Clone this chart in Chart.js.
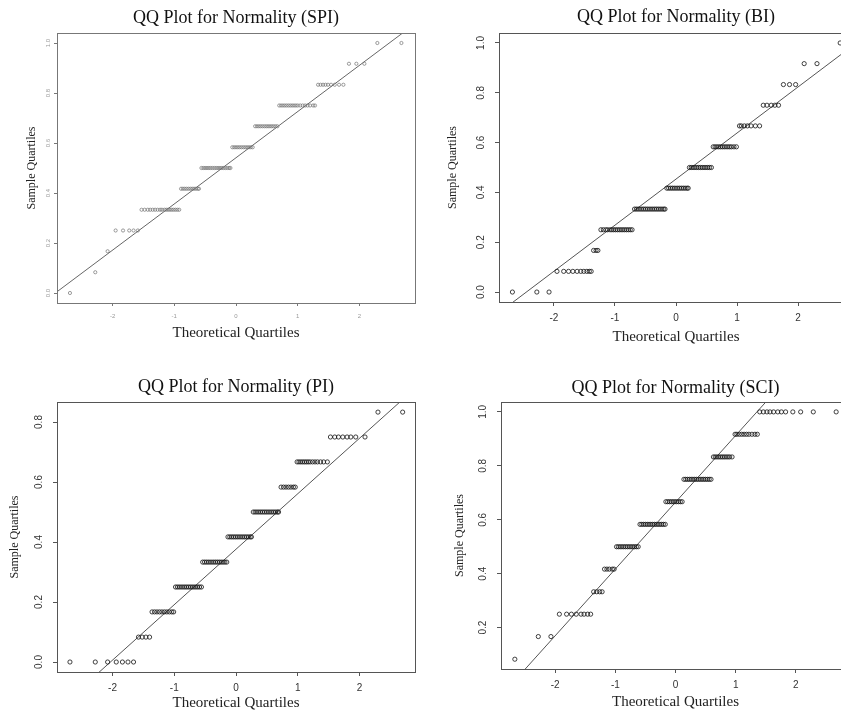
<!DOCTYPE html>
<html>
<head>
<meta charset="utf-8">
<title>QQ Plots for Normality</title>
<script src="https://cdn.jsdelivr.net/npm/chart.js@4.4.0/dist/chart.umd.min.js"></script>
<style>
  body { margin: 0; background: #fff; width: 841px; height: 711px; overflow: hidden; position: relative; }
  canvas { position: absolute; }
</style>
</head>
<body>
<canvas id="spiChart" width="420" height="345" style="left:0px;top:0px;width:420px;height:345px"></canvas>
<canvas id="biChart" width="440" height="350" style="left:420px;top:0px;width:440px;height:350px"></canvas>
<canvas id="piChart" width="420" height="351" style="left:0px;top:360px;width:420px;height:351px"></canvas>
<canvas id="sciChart" width="440" height="351" style="left:420px;top:360px;width:440px;height:351px"></canvas>
<script>
// tick labels
const xTicks = [-2, -1, 0, 1, 2];
const fullYTicks = [0, 0.2, 0.4, 0.6, 0.8, 1.0];
const piYTicks = [0, 0.2, 0.4, 0.6, 0.8];
const sciYTicks = [0.2, 0.4, 0.6, 0.8, 1.0];

// sample quartile levels, and the theoretical quartiles of the points sitting on each level
const spiLevels = [0, 0.083, 0.167, 0.25, 0.333, 0.417, 0.5, 0.583, 0.667, 0.75, 0.833, 0.917, 1.0];
const spiX = [
    [-2.69],
    [-2.28],
    [-2.08],
    [-1.95, -1.83, -1.73, -1.66, -1.59],
    [-1.53, -1.48, -1.43, -1.39, -1.35, -1.31, -1.27, -1.23, -1.20, -1.16, -1.13, -1.10, -1.07, -1.04, -1.01, -0.98, -0.95, -0.92],
    [-0.89, -0.86, -0.83, -0.80, -0.77, -0.74, -0.71, -0.68, -0.65, -0.62, -0.60],
    [-0.56, -0.53, -0.50, -0.47, -0.44, -0.41, -0.38, -0.35, -0.32, -0.29, -0.26, -0.23, -0.20, -0.17, -0.14, -0.11, -0.09],
    [-0.06, -0.03, 0.00, 0.03, 0.06, 0.09, 0.12, 0.15, 0.18, 0.21, 0.24, 0.27],
    [0.31, 0.34, 0.37, 0.40, 0.43, 0.46, 0.49, 0.52, 0.55, 0.58, 0.61, 0.64, 0.67],
    [0.70, 0.73, 0.76, 0.79, 0.82, 0.85, 0.88, 0.91, 0.94, 0.97, 1.00, 1.04, 1.08, 1.12, 1.16, 1.20, 1.25, 1.28],
    [1.33, 1.37, 1.41, 1.45, 1.49, 1.54, 1.60, 1.67, 1.74],
    [1.83, 1.95, 2.08],
    [2.29, 2.68]
];
const lineX = [-2.9, 2.9];
const spiLineY = [0.005, 1.077];

const biLevels = [0, 0.083, 0.167, 0.25, 0.333, 0.417, 0.5, 0.583, 0.667, 0.75, 0.833, 0.917, 1.0];
const biX = [
    [-2.68, -2.28, -2.08],
    [-1.95, -1.84, -1.76, -1.69, -1.62, -1.56, -1.51, -1.46, -1.42, -1.39],
    [-1.35, -1.31, -1.28],
    [-1.23, -1.19, -1.15, -1.12, -1.08, -1.05, -1.02, -0.99, -0.96, -0.93, -0.90, -0.87, -0.84, -0.81, -0.78, -0.75, -0.72],
    [-0.68, -0.65, -0.62, -0.59, -0.56, -0.53, -0.50, -0.47, -0.44, -0.41, -0.38, -0.35, -0.32, -0.29, -0.26, -0.23, -0.20, -0.18],
    [-0.15, -0.12, -0.09, -0.06, -0.03, 0.00, 0.03, 0.06, 0.09, 0.12, 0.15, 0.18, 0.20],
    [0.22, 0.25, 0.28, 0.31, 0.34, 0.37, 0.40, 0.43, 0.46, 0.49, 0.52, 0.55, 0.58],
    [0.61, 0.64, 0.67, 0.70, 0.73, 0.76, 0.79, 0.82, 0.85, 0.88, 0.91, 0.95, 0.99],
    [1.04, 1.07, 1.12, 1.17, 1.23, 1.30, 1.37],
    [1.43, 1.49, 1.56, 1.62, 1.68],
    [1.76, 1.86, 1.96],
    [2.10, 2.31],
    [2.69]
];
const biLineY = [-0.083, 0.99];

const piLevels = [0, 0.083, 0.167, 0.25, 0.333, 0.417, 0.5, 0.583, 0.667, 0.75, 0.833];
const piX = [
    [-2.69, -2.28, -2.08, -1.94, -1.84, -1.75, -1.66],
    [-1.58, -1.52, -1.46, -1.40],
    [-1.36, -1.32, -1.28, -1.24, -1.20, -1.16, -1.12, -1.08, -1.04, -1.01],
    [-0.98, -0.95, -0.92, -0.89, -0.86, -0.83, -0.80, -0.77, -0.74, -0.71, -0.68, -0.65, -0.62, -0.59, -0.56],
    [-0.54, -0.51, -0.48, -0.45, -0.42, -0.39, -0.36, -0.33, -0.30, -0.27, -0.24, -0.21, -0.18, -0.15],
    [-0.13, -0.10, -0.07, -0.04, -0.01, 0.02, 0.05, 0.08, 0.11, 0.14, 0.17, 0.20, 0.23, 0.25],
    [0.28, 0.31, 0.34, 0.37, 0.40, 0.43, 0.46, 0.49, 0.52, 0.55, 0.58, 0.61, 0.64, 0.67, 0.69],
    [0.73, 0.77, 0.81, 0.85, 0.89, 0.93, 0.96],
    [0.99, 1.02, 1.05, 1.08, 1.11, 1.14, 1.17, 1.20, 1.24, 1.28, 1.32, 1.37, 1.42, 1.48],
    [1.53, 1.60, 1.66, 1.73, 1.80, 1.86, 1.94, 2.09],
    [2.30, 2.70]
];
const piLineY = [-0.16, 0.912];

const sciLevels = [0.083, 0.167, 0.25, 0.333, 0.417, 0.5, 0.583, 0.667, 0.75, 0.833, 0.917, 1.0];
const sciX = [
    [-2.67],
    [-2.28, -2.07],
    [-1.93, -1.81, -1.73, -1.65, -1.57, -1.52, -1.46, -1.41],
    [-1.36, -1.31, -1.26, -1.22],
    [-1.18, -1.14, -1.10, -1.05, -1.02],
    [-0.98, -0.95, -0.92, -0.89, -0.86, -0.83, -0.80, -0.77, -0.74, -0.71, -0.68, -0.65, -0.62],
    [-0.59, -0.56, -0.53, -0.50, -0.47, -0.44, -0.41, -0.38, -0.35, -0.32, -0.29, -0.26, -0.23, -0.20, -0.17],
    [-0.16, -0.13, -0.10, -0.07, -0.04, -0.01, 0.02, 0.05, 0.08, 0.11],
    [0.14, 0.17, 0.20, 0.23, 0.26, 0.29, 0.32, 0.35, 0.38, 0.41, 0.44, 0.47, 0.50, 0.53, 0.56, 0.59],
    [0.63, 0.66, 0.69, 0.72, 0.75, 0.78, 0.81, 0.84, 0.87, 0.90, 0.94],
    [0.99, 1.02, 1.06, 1.10, 1.14, 1.18, 1.22, 1.27, 1.32, 1.36],
    [1.40, 1.46, 1.52, 1.57, 1.63, 1.70, 1.76, 1.83, 1.95, 2.08, 2.29, 2.67]
];
const sciLineY = [-0.053, 1.383];

function makePoints(levels, xs){
    const pts = [];
    xs.forEach((row, i) => {
        row.forEach(x => pts.push({x: x, y: levels[i]}));
    });
    return pts;
}

// box around the plot, title over the plot, and R-style rotated y labels
const qqDecor = {
    id: 'qqDecor',
    afterDraw(chart){
        const o = chart.options.plugins.qqDecor;
        const ctx = chart.ctx;
        const a = chart.chartArea;
        ctx.save();
        ctx.strokeStyle = o.boxColor;
        ctx.lineWidth = 1;
        ctx.strokeRect(Math.round(a.left) + 0.5, Math.round(a.top) + 0.5, Math.round(a.right - a.left), Math.round(a.bottom - a.top));

        ctx.fillStyle = '#111';
        ctx.font = '18px "Liberation Serif", "Times New Roman", serif';
        ctx.textAlign = 'center';
        ctx.textBaseline = 'middle';
        ctx.fillText(o.title, (a.left + a.right) / 2, o.titleY);

        const ys = chart.scales.y;
        ctx.fillStyle = o.tickColor;
        ctx.font = o.yTickSize + 'px "Liberation Sans", Arial, sans-serif';
        o.yTicks.forEach(v => {
            const py = ys.getPixelForValue(v);
            ctx.save();
            ctx.translate(o.yTickX, py);
            ctx.rotate(-Math.PI / 2);
            ctx.fillText(v.toFixed(1), 0, 0);
            ctx.restore();
        });
        ctx.restore();
    }
};

function drawQQ(id, cfg){
    const canvas = document.getElementById(id);
    const W = canvas.width, H = canvas.height;
    const a = cfg.area; // left, top, right, bottom of the plot inside the canvas
    const yTitleLh = 12 * 1.2;
    const xTitleLh = 15 * 1.2;
    const xTickLh = cfg.xTickSize * 1.2;

    new Chart(canvas, {
        type: 'scatter',
        data: {
            datasets: [{
                data: makePoints(cfg.levels, cfg.xs),
                pointStyle: 'circle',
                pointRadius: cfg.r,
                pointBackgroundColor: 'rgba(0,0,0,0)',
                pointBorderColor: cfg.pointColor,
                pointBorderWidth: cfg.pw,
                showLine: false
            }, {
                data: lineX.map((x, i) => ({x: x, y: cfg.lineY[i]})),
                showLine: true,
                pointRadius: 0,
                borderColor: cfg.lineColor,
                borderWidth: 1,
                clip: 0
            }]
        },
        plugins: [qqDecor],
        options: {
            responsive: false,
            animation: false,
            events: [],
            layout: { padding: { left: 0, top: a[1], right: W - a[2], bottom: 0 } },
            plugins: {
                legend: { display: false },
                tooltip: { enabled: false },
                qqDecor: {
                    title: cfg.title,
                    titleY: cfg.titleY,
                    yTicks: cfg.yTicks,
                    yTickX: cfg.yTickX,
                    yTickSize: cfg.yTickSize,
                    tickColor: cfg.tickColor,
                    boxColor: cfg.boxColor
                }
            },
            scales: {
                x: {
                    type: 'linear',
                    min: -2.9,
                    max: 2.9,
                    afterBuildTicks: s => { s.ticks = xTicks.map(v => ({value: v})); },
                    afterFit: s => { s.height = H - a[3]; },
                    border: { display: false },
                    grid: { display: true, drawOnChartArea: false, drawTicks: true, tickLength: cfg.tl, color: cfg.boxColor },
                    ticks: {
                        padding: cfg.xTickY - a[3] - cfg.tl - xTickLh / 2,
                        color: cfg.tickColor,
                        font: { family: '"Liberation Sans", Arial, sans-serif', size: cfg.xTickSize },
                        callback: v => String(v)
                    },
                    title: {
                        display: true,
                        text: 'Theoretical Quartiles',
                        color: '#222',
                        font: { family: '"Liberation Serif", "Times New Roman", serif', size: 15 },
                        padding: { top: 0, bottom: H - cfg.xTitleY - xTitleLh / 2 }
                    }
                },
                y: {
                    type: 'linear',
                    min: cfg.yMin,
                    max: cfg.yMax,
                    afterBuildTicks: s => { s.ticks = cfg.yTicks.map(v => ({value: v})); },
                    afterFit: s => { s.width = a[0]; },
                    border: { display: false },
                    grid: { display: true, drawOnChartArea: false, drawTicks: true, tickLength: cfg.tl, color: cfg.boxColor },
                    ticks: { display: false },
                    title: {
                        display: true,
                        text: 'Sample Quartiles',
                        color: '#222',
                        font: { family: '"Liberation Serif", "Times New Roman", serif', size: 12 },
                        padding: { top: cfg.yTitleX - yTitleLh / 2, bottom: 0 }
                    }
                }
            }
        }
    });
}

drawQQ('spiChart', {
    title: 'QQ Plot for Normality (SPI)', titleY: 18,
    levels: spiLevels, xs: spiX, lineY: spiLineY,
    yMin: -0.04, yMax: 1.04, yTicks: fullYTicks,
    area: [57, 33, 415, 303],
    yTitleX: 32, yTickX: 48, xTickY: 316, xTitleY: 333,
    xTickSize: 6, yTickSize: 6, tl: 3,
    r: 1.6, pw: 0.8, pointColor: 'rgba(110,110,110,0.85)',
    lineColor: '#666', boxColor: '#777', tickColor: '#999'
});

drawQQ('biChart', {
    title: 'QQ Plot for Normality (BI)', titleY: 17,
    levels: biLevels, xs: biX, lineY: biLineY,
    yMin: -0.04, yMax: 1.04, yTicks: fullYTicks,
    area: [79, 33, 433, 302],
    yTitleX: 33, yTickX: 61, xTickY: 318, xTitleY: 337,
    xTickSize: 10, yTickSize: 10, tl: 4,
    r: 2.1, pw: 1, pointColor: 'rgba(20,20,20,0.8)',
    lineColor: '#555', boxColor: '#555', tickColor: '#333'
});

drawQQ('piChart', {
    title: 'QQ Plot for Normality (PI)', titleY: 27,
    levels: piLevels, xs: piX, lineY: piLineY,
    yMin: -0.0333, yMax: 0.8667, yTicks: piYTicks,
    area: [57, 42, 417, 312],
    yTitleX: 15, yTickX: 39, xTickY: 328, xTitleY: 343,
    xTickSize: 10, yTickSize: 10, tl: 4,
    r: 2.1, pw: 1, pointColor: 'rgba(20,20,20,0.8)',
    lineColor: '#555', boxColor: '#555', tickColor: '#333'
});

drawQQ('sciChart', {
    title: 'QQ Plot for Normality (SCI)', titleY: 28,
    levels: sciLevels, xs: sciX, lineY: sciLineY,
    yMin: 0.0467, yMax: 1.0367, yTicks: sciYTicks,
    area: [81, 42, 430, 309],
    yTitleX: 40, yTickX: 63, xTickY: 325, xTitleY: 342,
    xTickSize: 10, yTickSize: 10, tl: 4,
    r: 2.1, pw: 1, pointColor: 'rgba(20,20,20,0.8)',
    lineColor: '#555', boxColor: '#555', tickColor: '#333'
});
</script>
</body>
</html>
